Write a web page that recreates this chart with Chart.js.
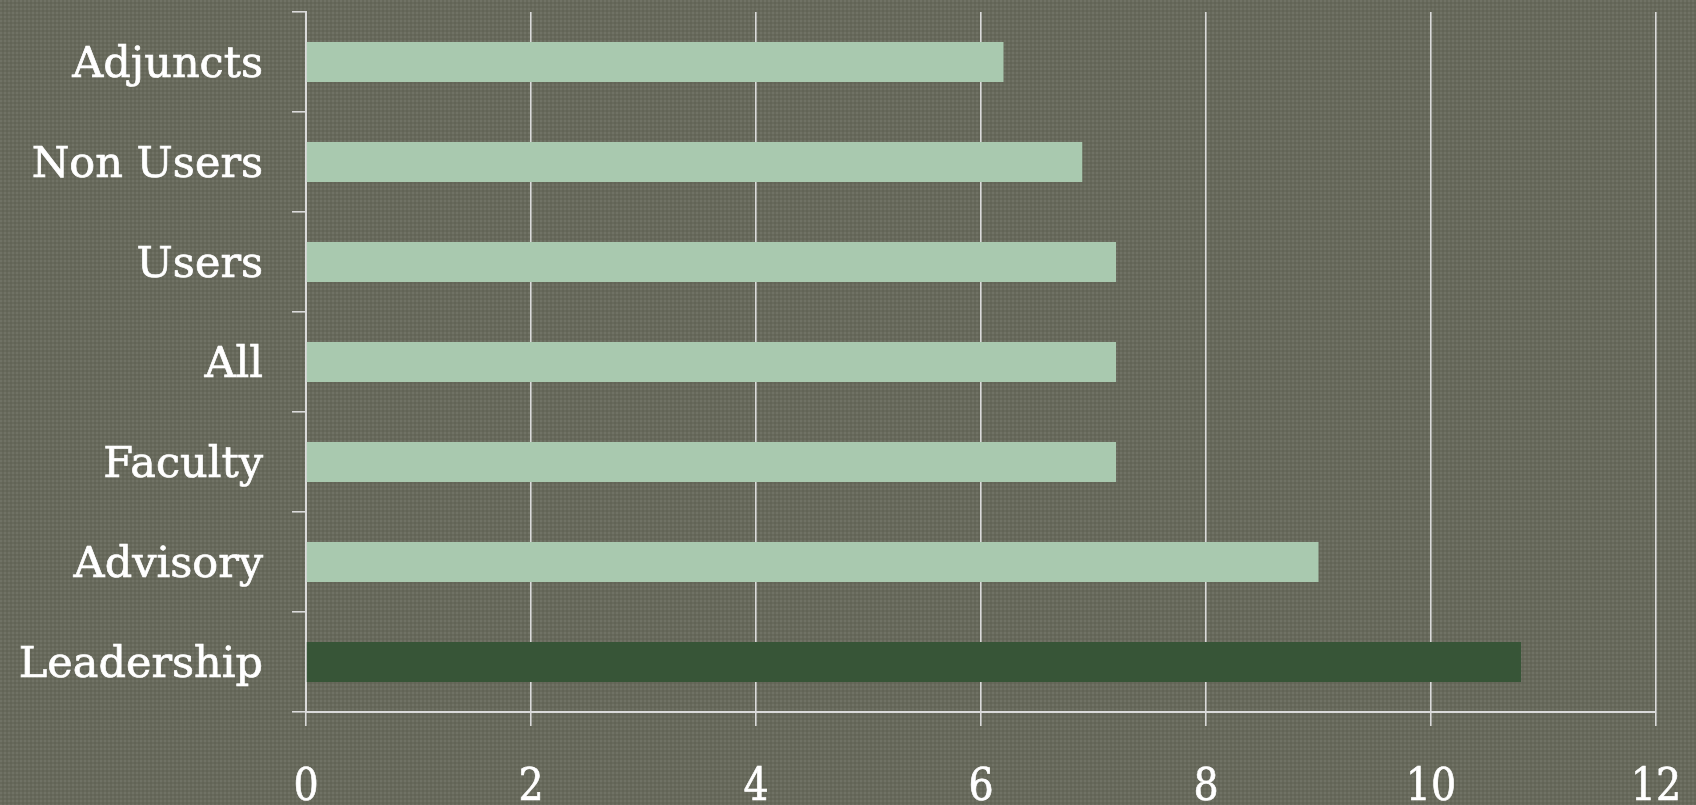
<!DOCTYPE html>
<html>
<head>
<meta charset="utf-8">
<title>Scores by group</title>
<script src="https://cdn.jsdelivr.net/npm/chart.js@4/dist/chart.umd.min.js"></script>
<style>
  html, body {
    margin: 0;
    padding: 0;
    width: 1696px;
    height: 805px;
    overflow: hidden;
    background-color: #67695b;
    background-image:
      radial-gradient(circle at 1px 1px, rgba(255,255,255,0.06) 1px, transparent 1.5px),
      radial-gradient(circle at 3px 3px, rgba(0,0,0,0.05) 1px, transparent 1.5px);
    background-size: 4px 4px, 4px 4px;
  }
  #wrap { position: relative; width: 1696px; height: 805px; }
</style>
</head>
<body>
<div id="wrap"><canvas id="chart" width="1696" height="805"></canvas></div>
<script>
// Groups, listed top to bottom
const groups = ['Adjuncts', 'Non Users', 'Users', 'All', 'Faculty', 'Advisory', 'Leadership'];
// Score for each group
const scores = [6.2, 6.9, 7.2, 7.2, 7.2, 9.0, 10.8];
// Value axis ticks
const xMin = 0;
const xMax = 12;
const xStep = 2;

const LIGHT_BAR = '#a9c9af';
const DARK_BAR = '#375537';
const LINE = '#dadada';
const highlighted = 'Leadership';

const labelFont = { family: "'DejaVu Serif', serif", size: 43 };
const tickFont = { family: "'DejaVu Serif Condensed', 'DejaVu Serif', serif", size: 44 };

// Fixed axis sizes; no extra room reserved for overhanging labels
function fixSize(prop, value) {
  return s => {
    s[prop] = value;
    s.paddingTop = 0;
    s.paddingBottom = 0;
    s.paddingLeft = 0;
    s.paddingRight = 0;
  };
}

new Chart(document.getElementById('chart'), {
  type: 'bar',
  data: {
    labels: groups,
    datasets: [{
      data: scores,
      backgroundColor: ctx => groups[ctx.dataIndex] === highlighted ? DARK_BAR : LIGHT_BAR,
      borderWidth: 0,
      barPercentage: 0.4,
      categoryPercentage: 1.0
    }]
  },
  options: {
    indexAxis: 'y',
    responsive: false,
    animation: false,
    layout: { padding: { top: 12, right: 40, left: 0, bottom: 0 } },
    plugins: {
      legend: { display: false },
      tooltip: { enabled: false }
    },
    scales: {
      x: {
        min: xMin,
        max: xMax,
        ticks: {
          stepSize: xStep,
          color: '#ffffff',
          font: tickFont,
          padding: 36,
          textStrokeColor: '#ffffff',
          textStrokeWidth: 0.6
        },
        grid: {
          color: LINE,
          lineWidth: 1.6,
          drawTicks: true,
          tickLength: 14
        },
        border: { display: true, color: LINE, width: 2 },
        afterFit: fixSize('height', 93)
      },
      y: {
        ticks: {
          color: '#ffffff',
          font: labelFont,
          padding: 29,
          labelOffset: 4,
          textStrokeColor: '#ffffff',
          textStrokeWidth: 0.7
        },
        grid: {
          offset: true,
          drawOnChartArea: false,
          drawTicks: true,
          tickLength: 14,
          color: LINE,
          lineWidth: 1.6
        },
        border: { display: true, color: LINE, width: 2 },
        afterFit: fixSize('width', 306)
      }
    }
  }
});
</script>
</body>
</html>
